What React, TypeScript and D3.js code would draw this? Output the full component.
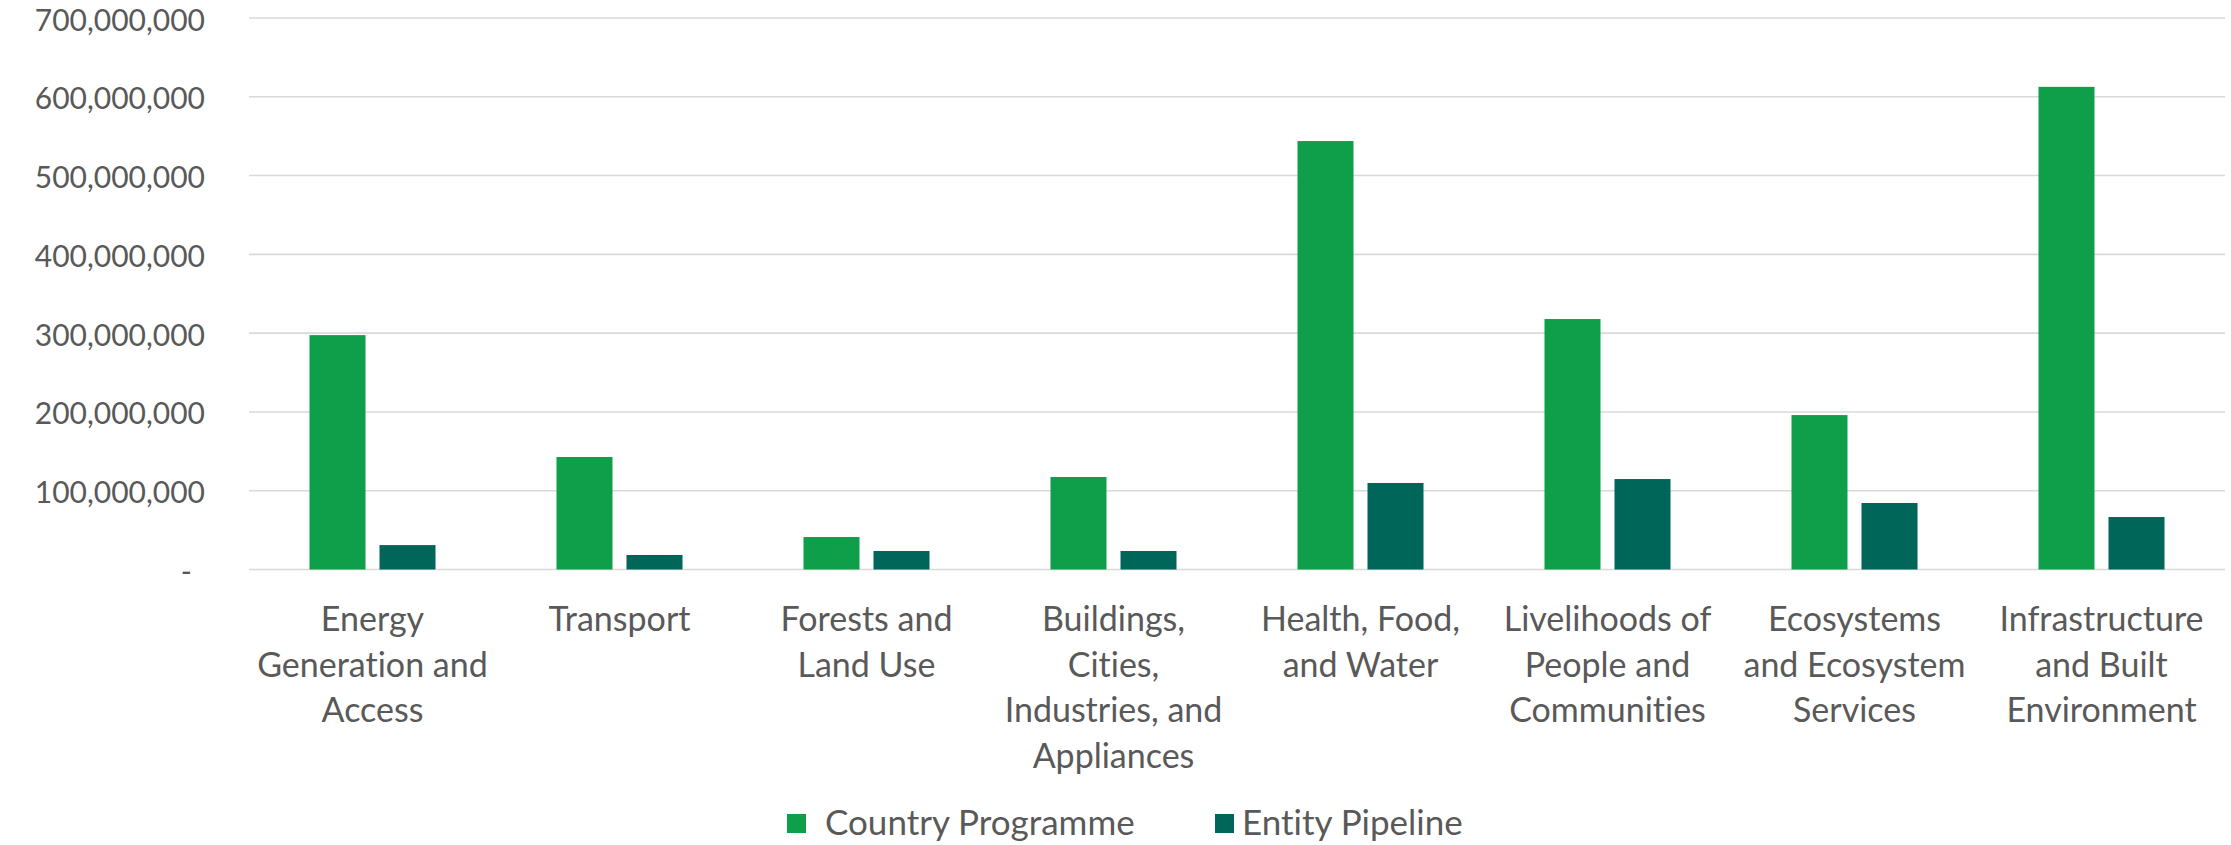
import React from "react";
import * as d3 from "d3";

const categories = [
  "Energy Generation and Access",
  "Transport",
  "Forests and Land Use",
  "Buildings, Cities, Industries, and Appliances",
  "Health, Food, and Water",
  "Livelihoods of People and Communities",
  "Ecosystems and Ecosystem Services",
  "Infrastructure and Built Environment",
];

const categoryLines = [
  ["Energy", "Generation and", "Access"],
  ["Transport"],
  ["Forests and", "Land Use"],
  ["Buildings,", "Cities,", "Industries, and", "Appliances"],
  ["Health, Food,", "and Water"],
  ["Livelihoods of", "People and", "Communities"],
  ["Ecosystems", "and Ecosystem", "Services"],
  ["Infrastructure", "and Built", "Environment"],
];

const seriesNames = ["Country Programme", "Entity Pipeline"];
const seriesColors = ["#0F9F4A", "#00665A"];

const countryProgramme = [297.5e6, 142.8e6, 41.2e6, 117.4e6, 543.8e6, 317.9e6, 196.0e6, 612.6e6];
const entityPipeline = [31.0e6, 18.4e6, 23.5e6, 23.5e6, 109.8e6, 114.8e6, 84.4e6, 66.6e6];

const yTicks = [0, 100e6, 200e6, 300e6, 400e6, 500e6, 600e6, 700e6];

const W = 2231;
const H = 845;
const FONT = "Lato, 'Open Sans', sans-serif";
const TEXT = "#595959";

export default function App() {
  const x = d3.scaleBand<string>().domain(categories).range([249, 2225]).paddingInner(0).paddingOuter(0);
  const x1 = d3
    .scaleBand<string>()
    .domain(seriesNames)
    .range([0, x.bandwidth()])
    .paddingInner(0.2)
    .paddingOuter(0.864);
  const y = d3.scaleLinear().domain([0, 700e6]).range([569.5, 18]);
  const fmt = d3.format(",");
  const series = [countryProgramme, entityPipeline];

  return (
    <svg
      width={W}
      height={H}
      style={{ position: "absolute", left: 0, top: 0, background: "#fff", fontVariantLigatures: "none" }}
      fontFamily={FONT}
    >
      <rect x={0} y={0} width={W} height={H} fill="#fff" />
      {yTicks.map((t) => (
        <g key={t}>
          <line x1={249} x2={2225} y1={y(t)} y2={y(t)} stroke="#D9D9D9" strokeWidth={1.6} />
          <text
            x={t === 0 ? 192 : 205}
            y={y(t) + 2}
            dy="0.35em"
            textAnchor="end"
            fontSize={30}
            fill={TEXT}
          >
            {t === 0 ? "-" : fmt(t)}
          </text>
        </g>
      ))}
      {series.map((vals, si) =>
        vals.map((v, ci) => (
          <rect
            key={`${si}-${ci}`}
            x={(x(categories[ci]) as number) + (x1(seriesNames[si]) as number)}
            y={y(v)}
            width={x1.bandwidth()}
            height={y(0) - y(v)}
            fill={seriesColors[si]}
          />
        ))
      )}
      {categories.map((c, ci) => (
        <text key={c} textAnchor="middle" fontSize={34} fill={TEXT}>
          {categoryLines[ci].map((ln, li) => (
            <tspan key={li} x={(x(c) as number) + x.bandwidth() / 2} y={631 + li * 45.5}>
              {ln}
            </tspan>
          ))}
        </text>
      ))}
      <g>
        <rect x={787} y={814} width={19} height={19} fill={seriesColors[0]} />
        <text x={825} y={835} fontSize={35} fill={TEXT}>
          {seriesNames[0]}
        </text>
        <rect x={1215} y={814} width={19} height={19} fill={seriesColors[1]} />
        <text x={1242} y={835} fontSize={35} fill={TEXT}>
          {seriesNames[1]}
        </text>
      </g>
    </svg>
  );
}
